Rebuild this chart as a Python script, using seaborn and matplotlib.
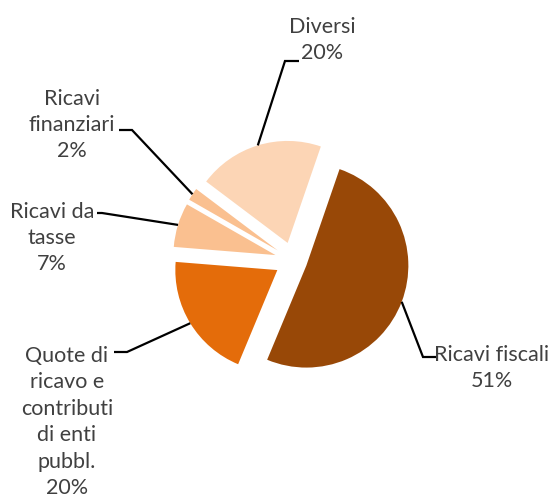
import matplotlib
matplotlib.use("Agg")
import numpy as np
import matplotlib.pyplot as plt
import seaborn as sns

# Data
labels = [
    "Ricavi fiscali",
    "Quote di\nricavo e\ncontributi\ndi enti\npubbl.",
    "Ricavi da\ntasse",
    "Ricavi\nfinanziari",
    "Diversi",
]
shares = [51, 20, 7, 2, 20]
colors = ["#984807", "#E46C0A", "#FAC090", "#FAC090", "#FCD5B5"]
explode = [0.14, 0.18, 0.18, 0.18, 0.18]

# Layout in figure pixels (text block centre, leader elbow, leader end)
text_xy = [(492, 368), (67, 422), (52, 238), (72, 125), (322, 40)]
elbow_xy = [(423, 358), (127, 353), (102, 214), (132, 131), (285, 62)]
end_xy = [(436, 358), (114, 353), (97, 214), (119, 131), (299, 62)]

sns.set_theme(style="white")
plt.rcParams["font.family"] = ["Lato", "DejaVu Sans"]

W, H = 552, 502
CX, CY, R = 293, 261.5, 102


def px(p):
    # figure pixel -> pie data coords
    return (p[0] - CX) / R, (CY - p[1]) / R


fig = plt.figure(figsize=(W / 100, H / 100), dpi=100)
ax = fig.add_axes([0, 0, 1, 1])
wedges, _ = ax.pie(
    shares,
    colors=colors,
    explode=explode,
    startangle=71,
    counterclock=False,
    radius=1,
    wedgeprops=dict(linewidth=0),
)
ax.set_aspect("auto")
ax.set_xlim(-CX / R, (W - CX) / R)
ax.set_ylim(-(H - CY) / R, CY / R)
ax.axis("off")

for w, lab, val, t, e, n in zip(wedges, labels, shares, text_xy, elbow_xy, end_xy):
    mid = np.deg2rad((w.theta1 + w.theta2) / 2)
    ax0 = w.center[0] + w.r * np.cos(mid)
    ay0 = w.center[1] + w.r * np.sin(mid)
    ex, ey = px(e)
    nx, ny = px(n)
    ax.plot([ax0, ex, nx], [ay0, ey, ny], color="black", lw=1.6,
            solid_joinstyle="miter", solid_capstyle="butt")
    tx, ty = px(t)
    ax.text(tx, ty, f"{lab}\n{val}%", ha="center", va="center",
            multialignment="center", fontsize=15.5, linespacing=1.4,
            color="#404040")

fig.savefig("out.png", dpi=100, facecolor="white")
